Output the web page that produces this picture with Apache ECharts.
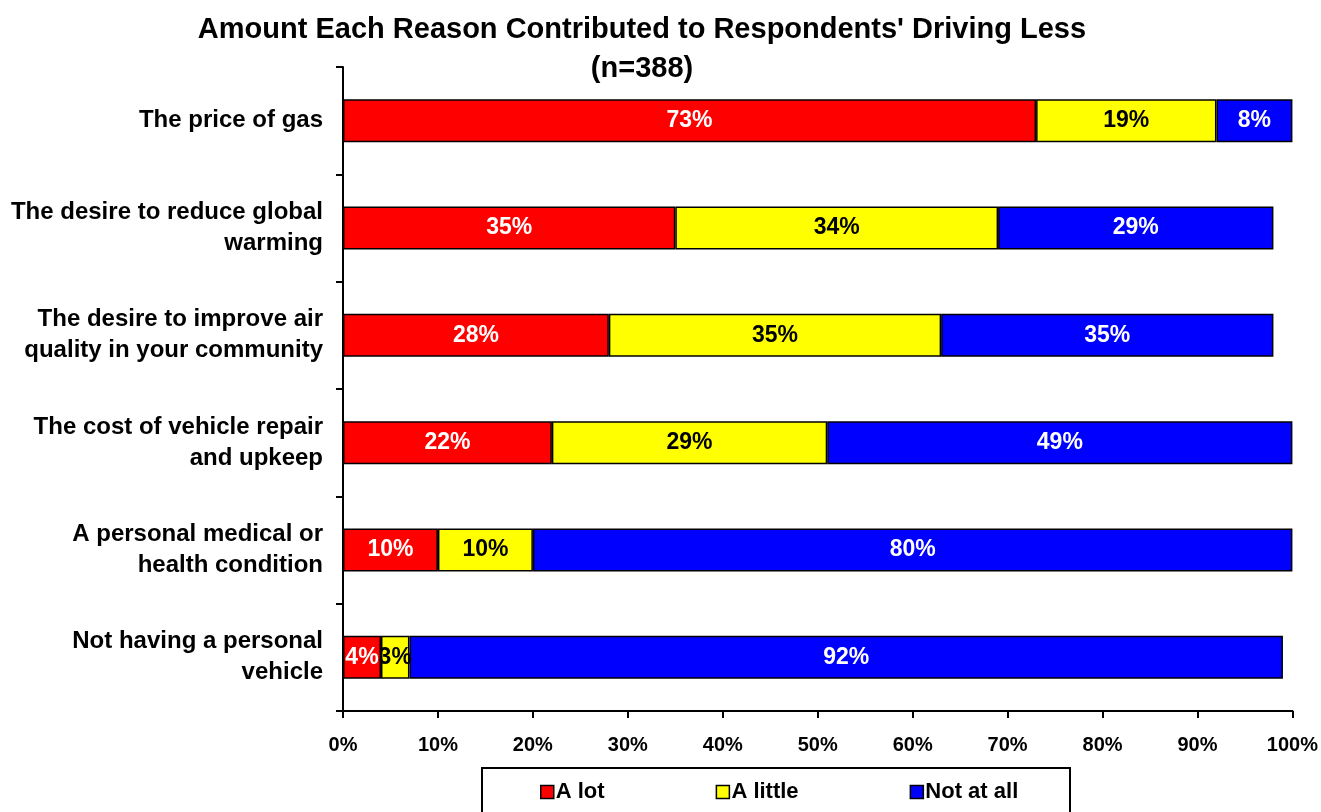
<!DOCTYPE html>
<html>
<head>
<meta charset="utf-8">
<script src="https://cdn.jsdelivr.net/npm/echarts@6/dist/echarts.min.js"></script>
<style>
  html, body { margin: 0; padding: 0; background: #fff; }
  #chart { width: 1321px; height: 812px; }
</style>
</head>
<body>
<div id="chart"></div>
<script>
// Reasons for driving less, share of respondents (%)
const categories = [
  'The price of gas',
  'The desire to reduce global\nwarming',
  'The desire to improve air\nquality in your community',
  'The cost of vehicle repair\nand upkeep',
  'A personal medical or\nhealth condition',
  'Not having a personal\nvehicle'
];
const aLot = [73, 35, 28, 22, 10, 4];
const aLittle = [19, 34, 35, 29, 10, 3];
const notAtAll = [8, 29, 35, 49, 80, 92];
const seriesNames = ['A lot', 'A little', 'Not at all'];

const FONT = '"Liberation Sans", Arial, sans-serif';

function bar(name, data, color, labelColor) {
  return {
    name: name,
    type: 'bar',
    stack: 'total',
    data: data,
    barWidth: 43,
    itemStyle: { color: color, borderColor: '#000', borderWidth: 1.5 },
    label: {
      show: true,
      position: 'inside',
      formatter: '{c}%',
      color: labelColor,
      fontFamily: FONT,
      fontWeight: 'bold',
      fontSize: 23
    },
    emphasis: { disabled: true }
  };
}

const chart = echarts.init(document.getElementById('chart'));
chart.setOption({
  animation: false,
  backgroundColor: '#fff',
  title: {
    text: "Amount Each Reason Contributed to Respondents' Driving Less\n(n=388)",
    left: 637,
    textAlign: 'center',
    top: 5,
    textStyle: {
      fontFamily: FONT,
      fontWeight: 'bold',
      fontSize: 29,
      lineHeight: 39,
      color: '#000'
    }
  },
  grid: { left: 343, right: 28, top: 67, bottom: 101, containLabel: false },
  xAxis: {
    type: 'value',
    min: 0,
    max: 100,
    interval: 10,
    splitLine: { show: false },
    axisLine: { show: true, lineStyle: { color: '#000', width: 2 } },
    axisTick: { show: true, length: 7, lineStyle: { color: '#000', width: 2 } },
    axisLabel: {
      formatter: '{value}%',
      color: '#000',
      fontFamily: FONT,
      fontWeight: 'bold',
      fontSize: 20,
      margin: 24
    }
  },
  yAxis: {
    type: 'category',
    data: categories,
    inverse: true,
    axisLine: { show: true, lineStyle: { color: '#000', width: 2 } },
    axisTick: { show: true, length: 7, alignWithLabel: false, lineStyle: { color: '#000', width: 2 } },
    axisLabel: {
      color: '#000',
      fontFamily: FONT,
      fontWeight: 'bold',
      fontSize: 24,
      lineHeight: 31,
      align: 'right',
      margin: 20
    }
  },
  legend: {
    data: seriesNames,
    left: 535,
    top: 776,
    itemWidth: 13,
    itemHeight: 13,
    itemGap: 111,
    icon: 'rect',
    itemStyle: { borderColor: '#000', borderWidth: 1.5 },
    textStyle: {
      color: '#000',
      fontFamily: FONT,
      fontWeight: 'bold',
      fontSize: 22,
      padding: [0, 0, 0, -3]
    },
    selectedMode: false
  },
  graphic: [{
    type: 'rect',
    shape: { x: 482, y: 768, width: 588, height: 60 },
    style: { fill: 'none', stroke: '#000', lineWidth: 2 },
    silent: true,
    z: 100
  }],
  series: [
    bar(seriesNames[0], aLot, '#ff0000', '#fff'),
    bar(seriesNames[1], aLittle, '#ffff00', '#000'),
    bar(seriesNames[2], notAtAll, '#0000ff', '#fff')
  ]
});
</script>
</body>
</html>
